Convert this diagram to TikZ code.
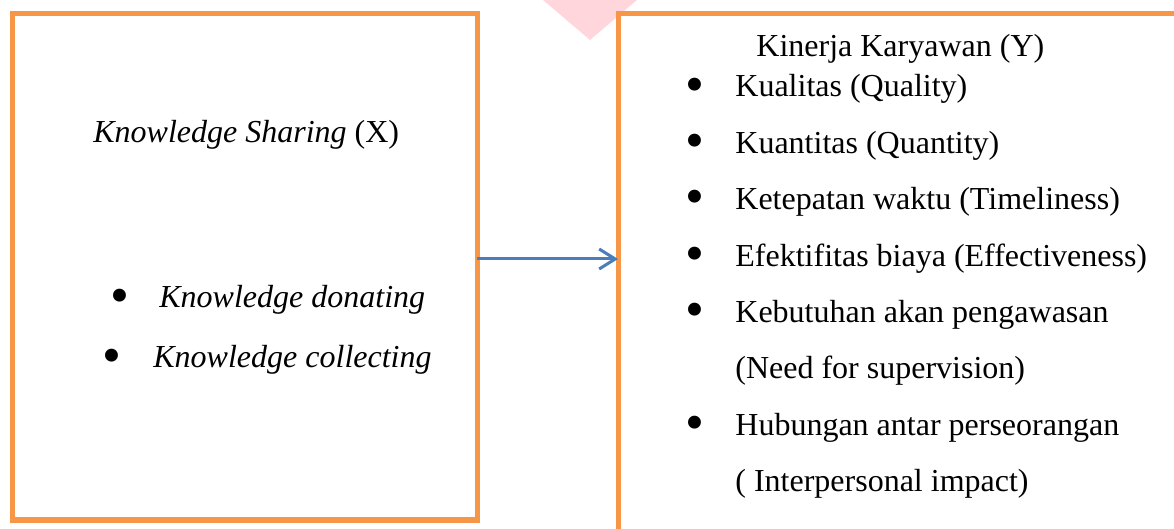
\documentclass[tikz,border=0pt]{standalone}
\usepackage{fontspec}
\setmainfont{Liberation Serif}
\usetikzlibrary{arrows.meta}
\definecolor{boxorange}{HTML}{F79646}
\definecolor{arrblue}{HTML}{4A7EBB}
\definecolor{wmpink}{HTML}{FFD6DC}
\begin{document}
\begin{tikzpicture}[x=0.5pt,y=-0.5pt,
  frame/.style={draw=boxorange,line width=2.5pt,outer sep=0pt,inner sep=0pt},
  txt/.style={anchor=base west,inner sep=0pt,font=\fontsize{16}{19}\selectfont},
  bul/.style={anchor=center,inner sep=0pt,font=\fontsize{27}{30}\selectfont},
  conn/.style={draw=arrblue,line width=1.5pt,-{Straight Barb[length=8pt,width=10pt]}}]
\clip (0,0) rectangle (1174,529);
\fill[wmpink] (543,0) -- (637,0) -- (590,40) -- cycle;
\node[frame,anchor=north west,minimum width=232.5pt,minimum height=253pt] (lbox) at (12,14) {};
\node[frame,anchor=north west,minimum width=300pt,minimum height=300pt] (rbox) at (618,13.5) {};
\draw[conn] ([yshift=4pt]lbox.east) -- ([yshift=4pt]lbox.east -| rbox.west);
% left box text
\node[txt] (ks) at (93,143) {\textit{Knowledge Sharing} (X)};
\node[bul] (lb1) at (120,301.5) {\textbullet};
\node[txt] (kd) at (159,308) {\textit{Knowledge donating}};
\node[bul] (lb2) at (112,361.5) {\textbullet};
\node[txt] (kc) at (153,368) {\textit{Knowledge collecting}};
% right box text
\node[txt] (ky) at (756,57) {Kinerja Karyawan (Y)};
\node[bul] (rb1) at (695,90) {\textbullet};
\node[txt] (r1) at (735,97) {Kualitas (Quality)};
\node[bul] (rb2) at (695,146.4) {\textbullet};
\node[txt] (r2) at (735,153.4) {Kuantitas (Quantity)};
\node[bul] (rb3) at (695,202.8) {\textbullet};
\node[txt] (r3) at (735,209.8) {Ketepatan waktu (Timeliness)};
\node[bul] (rb4) at (695,259.2) {\textbullet};
\node[txt] (r4) at (735,266.2) {Efektifitas biaya (Effectiveness)};
\node[bul] (rb5) at (695,315.6) {\textbullet};
\node[txt] (r5) at (735,322.6) {Kebutuhan akan pengawasan};
\node[txt] (r5b) at (735,379) {(Need for supervision)};
\node[bul] (rb6) at (695,428.4) {\textbullet};
\node[txt] (r6) at (735,435.4) {Hubungan antar perseorangan};
\node[txt] (r6b) at (735,491.8) {( Interpersonal impact)};
\end{tikzpicture}
\end{document}
